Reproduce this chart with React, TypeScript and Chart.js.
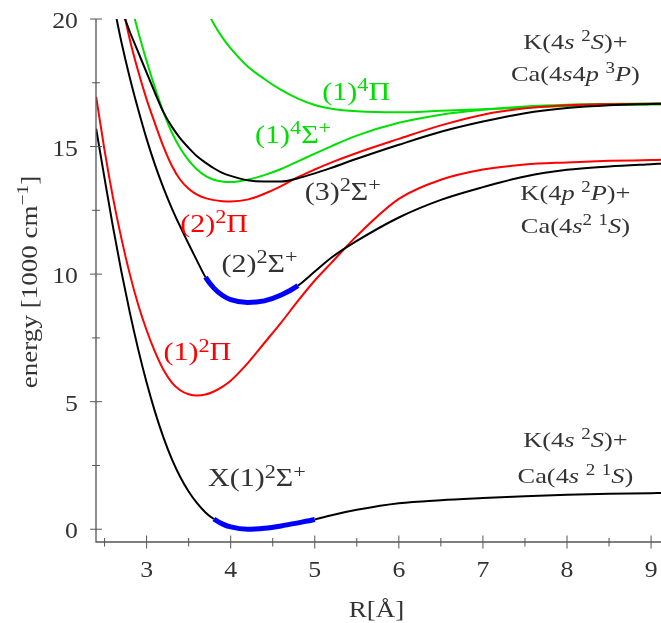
import React, { useEffect, useRef } from 'react';
import { Chart, registerables } from 'chart.js';

Chart.register(...registerables);

// ---------- data ----------
const R_GRID = [2.4, 2.5, 2.6, 2.7, 2.8, 2.9, 3.0, 3.1, 3.2, 3.3, 3.4, 3.5, 3.6, 3.7, 3.8, 3.9, 4.0, 4.2, 4.4, 4.6, 4.8, 5.0, 5.2, 5.5, 6.0, 6.5, 7.0, 7.5, 8.0, 8.5, 9.0, 9.12];

// X(1)2Sigma+
const E_X1S = [15.7, 13.75, 11.85, 10.1, 8.5, 7.05, 5.75, 4.6, 3.6, 2.75, 2.05, 1.48, 1.02, 0.66, 0.4, 0.21, 0.09, 0.0, 0.04, 0.13, 0.25, 0.38, 0.55, 0.76, 1.02, 1.14, 1.22, 1.29, 1.35, 1.39, 1.41, 1.42];
// (1)2Pi
const E_1P = [16.95, 14.85, 13.0, 11.4, 10.0, 8.8, 7.8, 6.95, 6.25, 5.75, 5.45, 5.29, 5.24, 5.28, 5.4, 5.58, 5.82, 6.5, 7.3, 8.1, 8.95, 9.75, 10.45, 11.5, 12.95, 13.7, 14.1, 14.3, 14.38, 14.44, 14.47, 14.48];
// (2)2Sigma+
const E_2S = [null, null, 20.7, 19.1, 17.7, 16.45, 15.3, 14.28, 13.38, 12.58, 11.86, 11.18, 10.52, 9.88, 9.45, 9.17, 9.0, 8.89, 8.95, 9.18, 9.55, 10.1, 10.65, 11.3, 12.22, 12.91, 13.41, 13.83, 14.09, 14.22, 14.31, 14.33];
// (2)2Pi
const E_2P = [null, null, null, 20.7, 19.2, 17.95, 16.85, 15.9, 15.0, 14.25, 13.7, 13.35, 13.12, 12.98, 12.9, 12.86, 12.85, 12.92, 13.15, 13.45, 13.8, 14.1, 14.38, 14.75, 15.3, 15.83, 16.25, 16.5, 16.62, 16.66, 16.68, 16.68];
// (3)2Sigma+
const E_3S = [null, null, null, 20.4, 19.5, 18.7, 17.9, 17.1, 16.35, 15.78, 15.32, 14.95, 14.62, 14.37, 14.15, 13.97, 13.85, 13.68, 13.63, 13.63, 13.76, 13.95, 14.17, 14.52, 15.07, 15.58, 15.98, 16.31, 16.51, 16.62, 16.67, 16.68];
// (1)4Sigma+
const E_14S = [null, null, null, null, 20.75, 19.5, 18.35, 17.3, 16.35, 15.55, 14.93, 14.46, 14.1, 13.85, 13.7, 13.63, 13.61, 13.7, 13.88, 14.12, 14.42, 14.72, 15.02, 15.43, 15.93, 16.25, 16.44, 16.57, 16.64, 16.67, 16.69, 16.69];
// (1)4Pi
const E_14P = [null, null, null, null, null, null, null, null, null, null, null, null, null, 20.45, 19.8, 19.28, 18.85, 18.15, 17.65, 17.22, 16.88, 16.63, 16.48, 16.38, 16.34, 16.4, 16.46, 16.53, 16.59, 16.63, 16.65, 16.65];

// vibrational (blue) ranges of R
const BLUE_X1S = [3.8, 5.0];
const BLUE_2S = [3.7, 4.8];

const X_TICKS = [3, 4, 5, 6, 7, 8, 9];
const X_MINOR = [2.5, 3.5, 4.5, 5.5, 6.5, 7.5, 8.5];
const Y_TICKS = [0, 5, 10, 15, 20];
const Y_MINOR = [2.5, 7.5, 12.5, 17.5];

// rich text: [text, flags]  (flags: 'i' italic, 's' superscript)
type Seg = [string, string];
const STATE_TEXTS: Seg[][] = [
  [['(1)', ''], ['4', 's'], ['Π', '']],
  [['(1)', ''], ['4', 's'], ['Σ', ''], ['+', 's']],
  [['(3)', ''], ['2', 's'], ['Σ', ''], ['+', 's']],
  [['(2)', ''], ['2', 's'], ['Π', '']],
  [['(2)', ''], ['2', 's'], ['Σ', ''], ['+', 's']],
  [['(1)', ''], ['2', 's'], ['Π', '']],
  [['X(1)', ''], ['2', 's'], ['Σ', ''], ['+', 's']],
];
const ASYM_TEXTS: Seg[][] = [
  [['K(4', ''], ['s', 'i'], [' ', ''], ['2', 's'], ['S', 'i'], [')+', '']],
  [['Ca(4', ''], ['s', 'i'], ['4', ''], ['p', 'i'], [' ', ''], ['3', 's'], ['P', 'i'], [')', '']],
  [['K(4', ''], ['p', 'i'], [' ', ''], ['2', 's'], ['P', 'i'], [')+', '']],
  [['Ca(4', ''], ['s', 'i'], ['2', 's'], [' ', ''], ['1', 's'], ['S', 'i'], [')', '']],
  [['K(4', ''], ['s', 'i'], [' ', ''], ['2', 's'], ['S', 'i'], [')+', '']],
  [['Ca(4', ''], ['s', 'i'], [' ', ''], ['2', 's'], [' ', ''], ['1', 's'], ['S', 'i'], [')', '']],
];
const Y_TITLE: Seg[] = [['energy [1000 cm', ''], ['−1', 's'], [']', '']];
const X_TITLE: Seg[] = [['R[Å]', '']];

// ---------- styles / placement ----------
const FAMILY = '"Liberation Serif", "DejaVu Serif", serif';
const BLACK = '#000000';
const RED = '#ff0000';
const GREEN = '#00e000';
const BLUE = '#0000ff';
const TEXT = '#333333';
const AXIS = '#555555';

// label anchors in data coordinates (left, baseline)
const STATE_POS = [
  [5.09, 16.84], [4.29, 15.15], [4.88, 12.92], [3.40, 11.67], [3.89, 10.1], [3.20, 6.64], [3.73, 1.7],
];
const STATE_COLORS = [GREEN, GREEN, TEXT, RED, TEXT, RED, TEXT];
const ASYM_POS = [[8.10, 18.83], [8.10, 17.58], [8.10, 12.91], [8.10, 11.62], [8.10, 3.22], [8.10, 1.80]];

type Style = { size: number; sx: number; sup: number; raise: number };
const ST_TICK: Style = { size: 23, sx: 1.12, sup: 0.72, raise: 0.35 };
const ST_TITLE: Style = { size: 23.5, sx: 1.15, sup: 0.72, raise: 0.38 };
const ST_STATE: Style = { size: 25, sx: 1.2, sup: 0.74, raise: 0.33 };
const ST_ASYM: Style = { size: 22, sx: 1.2, sup: 0.72, raise: 0.36 };

function fontFor(flags: string, st: Style) {
  const s = flags.includes('s') ? st.size * st.sup : st.size;
  return `${flags.includes('i') ? 'italic ' : ''}${s}px ${FAMILY}`;
}
function richWidth(ctx: CanvasRenderingContext2D, segs: Seg[], st: Style) {
  let w = 0;
  for (const [t, f] of segs) { ctx.font = fontFor(f, st); w += ctx.measureText(t).width; }
  return w;
}
function drawRich(ctx: CanvasRenderingContext2D, segs: Seg[], x: number, y: number, st: Style, color: string, align: 'left' | 'center' | 'right') {
  const w = richWidth(ctx, segs, st) * st.sx;
  const x0 = align === 'center' ? x - w / 2 : align === 'right' ? x - w : x;
  ctx.save();
  ctx.translate(x0, y);
  ctx.scale(st.sx, 1);
  ctx.fillStyle = color;
  ctx.textBaseline = 'alphabetic';
  ctx.textAlign = 'left';
  let cx = 0;
  for (const [t, f] of segs) {
    ctx.font = fontFor(f, st);
    ctx.fillText(t, cx, f.includes('s') ? -st.size * st.raise : 0);
    cx += ctx.measureText(t).width;
  }
  ctx.restore();
}

const overlay = {
  id: 'overlay',
  afterDraw(chart: any) {
    const { ctx, chartArea: ca, scales } = chart;
    const xs = scales.x, ys = scales.y;
    ctx.save();
    ctx.strokeStyle = AXIS;
    ctx.lineWidth = 1.3;
    ctx.beginPath();
    ctx.moveTo(ca.left, ys.getPixelForValue(20));
    ctx.lineTo(ca.left, ca.bottom);
    ctx.lineTo(ca.right, ca.bottom);
    ctx.stroke();
    ctx.lineWidth = 1;
    ctx.beginPath();
    for (const v of X_TICKS) { const p = xs.getPixelForValue(v); ctx.moveTo(p, ca.bottom - 6.5); ctx.lineTo(p, ca.bottom + 6.5); }
    for (const v of X_MINOR) { const p = xs.getPixelForValue(v); ctx.moveTo(p, ca.bottom - 4); ctx.lineTo(p, ca.bottom + 4.5); }
    for (const v of Y_TICKS) { const p = ys.getPixelForValue(v); ctx.moveTo(ca.left - 6, p); ctx.lineTo(ca.left + 6, p); }
    for (const v of Y_MINOR) { const p = ys.getPixelForValue(v); ctx.moveTo(ca.left - 4, p); ctx.lineTo(ca.left + 4, p); }
    ctx.stroke();

    // tick labels
    for (const v of X_TICKS) drawRich(ctx, [[String(v), '']], xs.getPixelForValue(v), ca.bottom + 35, ST_TICK, TEXT, 'center');
    for (const v of Y_TICKS) drawRich(ctx, [[String(v), '']], ca.left - 18, ys.getPixelForValue(v) + 9, ST_TICK, TEXT, 'right');

    STATE_TEXTS.forEach((segs, i) => {
      const [dx, dy] = STATE_POS[i];
      drawRich(ctx, segs, xs.getPixelForValue(dx), ys.getPixelForValue(dy), ST_STATE, STATE_COLORS[i], 'left');
    });
    ASYM_TEXTS.forEach((segs, i) => {
      const [dx, dy] = ASYM_POS[i];
      drawRich(ctx, segs, xs.getPixelForValue(dx), ys.getPixelForValue(dy), ST_ASYM, TEXT, 'center');
    });
    // axis titles
    drawRich(ctx, X_TITLE, (ca.left + ca.right) / 2 - 2, 617, ST_TITLE, TEXT, 'center');
    ctx.save();
    ctx.translate(37, 282);
    ctx.rotate(-Math.PI / 2);
    drawRich(ctx, Y_TITLE, 0, 0, ST_TITLE, TEXT, 'center');
    ctx.restore();
    ctx.restore();
  },
};

function pts(ys: (number | null)[]) {
  return R_GRID.map((r, i) => ({ x: r, y: ys[i] }));
}

function blueSegment(range: number[], base: string, baseW: number) {
  const inside = (c: any) => c.p0.parsed.x >= range[0] - 1e-9 && c.p1.parsed.x <= range[1] + 1e-9;
  return {
    borderColor: (c: any) => (inside(c) ? BLUE : base),
    borderWidth: (c: any) => (inside(c) ? 5 : baseW),
  };
}

export default function App() {
  const ref = useRef<HTMLCanvasElement | null>(null);
  useEffect(() => {
    if (!ref.current) return;
    const common = { pointRadius: 0, fill: false, cubicInterpolationMode: 'monotone' as const, borderWidth: 2 };
    const chart = new Chart(ref.current, {
      type: 'line',
      data: {
        datasets: [
          { ...common, data: pts(E_X1S), borderColor: BLACK, segment: blueSegment(BLUE_X1S, BLACK, 2) },
          { ...common, data: pts(E_2S), borderColor: BLACK, segment: blueSegment(BLUE_2S, BLACK, 2) },
          { ...common, data: pts(E_3S), borderColor: BLACK },
          { ...common, data: pts(E_1P), borderColor: RED },
          { ...common, data: pts(E_2P), borderColor: RED },
          { ...common, data: pts(E_14S), borderColor: GREEN },
          { ...common, data: pts(E_14P), borderColor: GREEN },
        ] as any,
      },
      options: {
        animation: false,
        responsive: true,
        maintainAspectRatio: false,
        layout: { autoPadding: false, padding: { top: 19, right: 0, left: 0, bottom: 0 } },
        plugins: { legend: { display: false }, tooltip: { enabled: false } },
        scales: {
          x: {
            type: 'linear', min: 2.398, max: 9.118,
            grid: { display: false, drawTicks: false },
            border: { display: false },
            ticks: { display: false },
            afterFit: (s: any) => { s.height = 81; },
          },
          y: {
            type: 'linear', min: -0.5, max: 20,
            grid: { display: false, drawTicks: false },
            border: { display: false },
            ticks: { display: false },
            afterFit: (s: any) => { s.width = 96; },
          },
        },
      } as any,
      plugins: [overlay],
    });
    return () => chart.destroy();
  }, []);
  return (
    <div style={{ position: 'absolute', left: 0, top: 0, width: 661, height: 623, background: '#fff' }}>
      <canvas ref={ref} />
    </div>
  );
}
